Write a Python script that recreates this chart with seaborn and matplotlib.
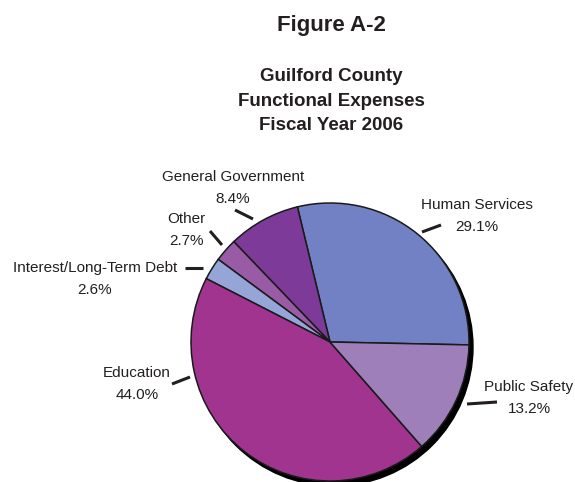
import matplotlib
matplotlib.use("Agg")
import matplotlib.pyplot as plt
from matplotlib.patches import Circle
import seaborn as sns

# slices in counter-clockwise order, starting just below 3 o'clock
categories = ["Human Services", "General Government", "Other",
              "Interest/Long-Term Debt", "Education", "Public Safety"]
shares = [29.1, 8.4, 2.7, 2.6, 44.0, 13.2]
colors = ["#7281C3", "#7D3A98", "#9A5BA6", "#96A5D8", "#A0348F", "#9E7FBA"]

# label text position (pixel coords, y from top) and the short leader stroke
label_pos = [(477, 216), (233, 188), (186, 230), (95, 279), (137, 384), (529, 398)]
leader = [((422, 232), (441, 225)), ((235, 210), (253, 219)), ((210, 231), (222, 245)),
          ((185, 268), (203, 268)), ((172, 384), (190, 377)), ((467, 404), (497, 402))]

W, H = 575, 482
CX, CY, R = 330, 342, 139

sns.set_theme(style="white")
plt.rcParams["font.family"] = ["Liberation Sans", "DejaVu Sans"]

fig = plt.figure(figsize=(W / 100, H / 100), dpi=100)
ax = fig.add_axes([0, 0, 1, 1])

# hard black drop shadow behind the pie
ax.add_patch(Circle((CX + 4, H - CY - 5), R, color="black", zorder=1))
wedges, _ = ax.pie(shares, colors=colors, startangle=-1.2, counterclock=True,
                   center=(CX, H - CY), radius=R, frame=True,
                   wedgeprops=dict(edgecolor="#1a1a1a", linewidth=1.1))
for w in wedges:
    w.set_zorder(2)
ax.set_xlim(0, W)
ax.set_ylim(0, H)
ax.set_aspect("equal")
ax.axis("off")

txt = "#231F20"
for name, val, (tx, ty), ((x0, y0), (x1, y1)) in zip(categories, shares, label_pos, leader):
    ax.text(tx, H - ty, f"{name}\n{val:.1f}%", ha="center", va="center",
            fontsize=11, color=txt, linespacing=1.65)
    ax.plot([x0, x1], [H - y0, H - y1], color=txt, lw=2.2, solid_capstyle="butt")

fig.text(331 / W, 1 - 25 / H, "Figure A-2", ha="center", va="center",
         fontsize=16, fontweight="bold", color=txt)
fig.text(331 / W, 1 - 101 / H, "Guilford County\nFunctional Expenses\nFiscal Year 2006",
         ha="center", va="center", fontsize=13.5, fontweight="bold", color=txt,
         linespacing=1.6)

fig.savefig("out.png", dpi=100)
